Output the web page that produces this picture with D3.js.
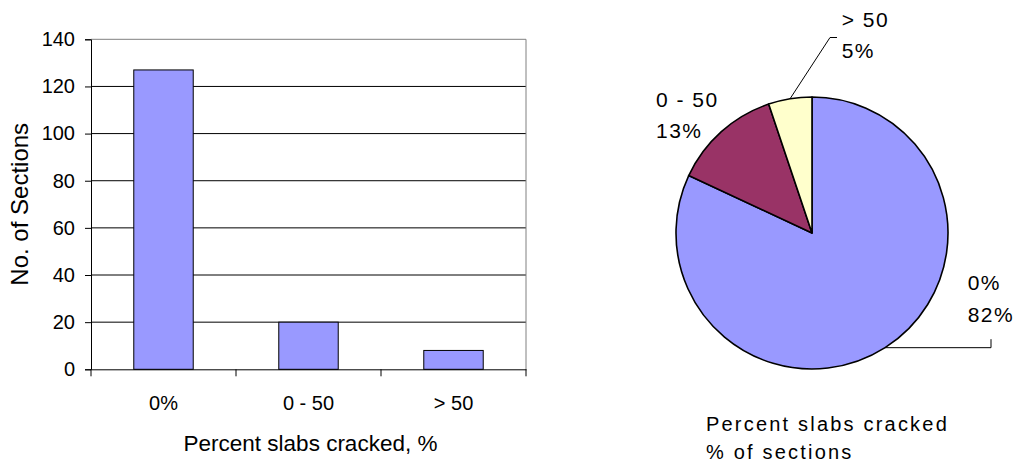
<!DOCTYPE html>
<html>
<head>
<meta charset="utf-8">
<script src="https://cdn.jsdelivr.net/npm/d3@7"></script>
<style>
  body { margin: 0; background: #fff; }
  text { font-family: Arial, "Liberation Sans", sans-serif; fill: #000; }
</style>
</head>
<body>
<script>

// data
var categories = ["0%", "0 - 50", "> 50"]
var sections = [127, 20, 8]
var yTicks = [0, 20, 40, 60, 80, 100, 120, 140]
var sliceColors = ["#9999FF", "#993366", "#FFFFCC"]

var width = 1021, height = 470

var svg = d3.select("body").append("svg")
    .attr("width", width)
    .attr("height", height)

// ---------- bar chart ----------
var plot = {left: 91, right: 526, top: 39.3, bottom: 369.3}

var x = d3.scaleBand()
    .domain(categories)
    .range([plot.left, plot.right])

var y = d3.scaleLinear()
    .domain([0, 140])
    .range([plot.bottom, plot.top])

var bar = svg.append("g")

// gridlines (black) and grey plot border top/right
bar.selectAll(".grid")
    .data(yTicks.filter(function(t){ return t > 0 && t < 140 }))
  .enter().append("line")
    .attr("x1", plot.left)
    .attr("x2", plot.right)
    .attr("y1", function(d){ return y(d) })
    .attr("y2", function(d){ return y(d) })
    .attr("stroke", "#000")
    .attr("stroke-width", 1)

bar.append("path")
    .attr("d", "M" + plot.left + "," + y(140) + "H" + plot.right + "V" + y(0))
    .attr("fill", "none")
    .attr("stroke", "#808080")
    .attr("stroke-width", 1)

// bars
var barW = x.bandwidth() * 0.41
bar.selectAll(".bar")
    .data(sections)
  .enter().append("rect")
    .attr("x", function(d, i){ return x(categories[i]) + (x.bandwidth() - barW) / 2 })
    .attr("y", function(d){ return y(d) })
    .attr("width", barW)
    .attr("height", function(d){ return y(0) - y(d) })
    .attr("fill", sliceColors[0])
    .attr("stroke", "#000")
    .attr("stroke-width", 1)

// y axis
var yAxis = bar.append("g")
    .attr("transform", "translate(" + plot.left + ",0)")
    .call(d3.axisLeft(y).tickValues(yTicks).tickSize(6).tickPadding(10))
yAxis.selectAll("text").style("font-size", "20px").attr("font-family", null)
yAxis.selectAll("line, path").attr("stroke", "#000")

// x axis: labels centred, ticks on the category boundaries
var xAxis = bar.append("g")
    .attr("transform", "translate(0," + plot.bottom + ")")
    .call(d3.axisBottom(x).tickSize(0).tickPadding(26.5))
xAxis.select(".domain").attr("stroke", "#000")
xAxis.selectAll("text").style("font-size", "20px").attr("font-family", null)

var bounds = categories.map(function(c){ return x(c) }).concat([plot.right])
xAxis.selectAll(".bound")
    .data(bounds)
  .enter().append("line")
    .attr("x1", function(d){ return d })
    .attr("x2", function(d){ return d })
    .attr("y1", 0)
    .attr("y2", 7)
    .attr("stroke", "#000")

// axis titles
bar.append("text")
    .attr("x", (plot.left + plot.right) / 2 + 2)
    .attr("y", 451)
    .attr("text-anchor", "middle")
    .style("font-size", "22.5px")
    .text("Percent slabs cracked, %")

bar.append("text")
    .attr("transform", "translate(27.5," + (plot.top + plot.bottom) / 2 + ") rotate(-90)")
    .attr("text-anchor", "middle")
    .style("font-size", "24px")
    .text("No. of Sections")

// ---------- pie chart ----------
var cx = 812, cy = 233, r = 136
var total = d3.sum(sections)

var pie = d3.pie().sort(null)
var arc = d3.arc().innerRadius(0).outerRadius(r)
var slices = pie(sections)

var pg = svg.append("g").attr("transform", "translate(" + cx + "," + cy + ")")

pg.selectAll(".slice")
    .data(slices)
  .enter().append("path")
    .attr("d", arc)
    .attr("fill", function(d, i){ return sliceColors[i] })
    .attr("stroke", "#000")
    .attr("stroke-width", 1.6)
    .attr("stroke-linejoin", "round")

// label placement per slice (relative to pie centre)
var pieLayout = [
  {lx: 155.7, ly: 57, leader: "right"},
  {lx: -156, ly: -126.3, leader: null},
  {lx: 29.7, ly: -206.3, leader: "up"}
]

function arcPoint(d){
  var a = (d.startAngle + d.endAngle) / 2
  return [r * Math.sin(a), -r * Math.cos(a)]
}

slices.forEach(function(d, i){
  var L = pieLayout[i]
  var t = pg.append("text")
      .attr("x", L.lx)
      .attr("y", L.ly)
      .style("font-size", "21px")
      .style("letter-spacing", "1.5px")
  t.append("tspan").attr("x", L.lx).text(categories[i])
  t.append("tspan").attr("x", L.lx).attr("dy", 31.7)
      .text(Math.round(sections[i] / total * 100) + "%")

  var p = arcPoint(d)
  var path = null
  if (L.leader == "right") {
    path = "M" + p[0] + "," + p[1] + "H179V" + (p[1] - 8.5)
  } else if (L.leader == "up") {
    path = "M" + p[0] + "," + p[1] + "L18,-195.5H25"
  }
  if (path) {
    pg.append("path")
      .attr("d", path)
      .attr("fill", "none")
      .attr("stroke", "#000")
      .attr("stroke-width", 1)
  }
})

// pie caption
var cap = svg.append("text")
    .attr("x", 706)
    .attr("y", 430.7)
    .style("font-size", "20px")
    .style("letter-spacing", "2.2px")
cap.append("tspan").attr("x", 706).text("Percent slabs cracked")
cap.append("tspan").attr("x", 706).attr("dy", 28).text("% of sections")

</script>
</body>
</html>
